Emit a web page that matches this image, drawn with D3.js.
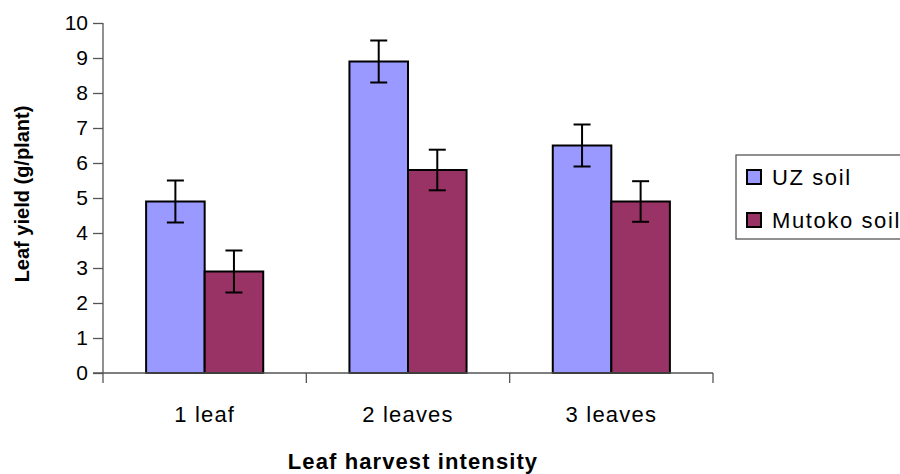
<!DOCTYPE html>
<html>
<head>
<meta charset="utf-8">
<script src="https://cdn.jsdelivr.net/npm/d3@7"></script>
<style>
  body { margin: 0; background: #fff; }
  svg { display: block; font-family: "Liberation Sans", Arial, sans-serif; }
</style>
</head>
<body>
<svg id="chart" width="900" height="474"></svg>
<script>
// data
const categories = ['1 leaf', '2 leaves', '3 leaves'];
const seriesNames = ['UZ soil', 'Mutoko soil'];
const uzValues = [4.9, 8.9, 6.5];
const mutokoValues = [2.9, 5.8, 4.9];
const uzErrors = [0.6, 0.6, 0.6];
const mutokoErrors = [0.6, 0.58, 0.58];
const yTicks = [0, 1, 2, 3, 4, 5, 6, 7, 8, 9, 10];
const colors = ['#9999ff', '#993366'];

const rows = categories.map((c, i) => ({
  category: c,
  bars: [
    { series: seriesNames[0], value: uzValues[i], err: uzErrors[i] },
    { series: seriesNames[1], value: mutokoValues[i], err: mutokoErrors[i] }
  ]
}));

const plot = { left: 103, right: 713, top: 23, bottom: 373 };

const svg = d3.select('#chart');

const x = d3.scaleBand()
  .domain(categories)
  .range([plot.left, plot.right]);

// bars take a bit over half of each category slot
const groupPad = x.bandwidth() * 0.212;
const x1 = d3.scaleBand()
  .domain(seriesNames)
  .range([groupPad, x.bandwidth() - groupPad]);

const y = d3.scaleLinear()
  .domain([0, 10])
  .range([plot.bottom, plot.top]);

const color = d3.scaleOrdinal().domain(seriesNames).range(colors);

// bars
const groups = svg.append('g')
  .selectAll('g')
  .data(rows)
  .join('g')
  .attr('transform', d => `translate(${x(d.category)},0)`);

groups.selectAll('rect')
  .data(d => d.bars)
  .join('rect')
  .attr('x', d => x1(d.series))
  .attr('y', d => y(d.value))
  .attr('width', x1.bandwidth())
  .attr('height', d => y(0) - y(d.value))
  .attr('fill', d => color(d.series))
  .attr('stroke', '#000')
  .attr('stroke-width', 2);

// error bars
const capHalf = 8.5;
const errs = groups.selectAll('g.err')
  .data(d => d.bars)
  .join('g')
  .attr('class', 'err')
  .attr('stroke', '#000')
  .attr('stroke-width', 2);

errs.append('line')
  .attr('x1', d => x1(d.series) + x1.bandwidth() / 2)
  .attr('x2', d => x1(d.series) + x1.bandwidth() / 2)
  .attr('y1', d => y(d.value + d.err))
  .attr('y2', d => y(d.value - d.err));

errs.selectAll('line.cap')
  .data(d => [d.value + d.err, d.value - d.err].map(v => ({ v, cx: x1(d.series) + x1.bandwidth() / 2 })))
  .join('line')
  .attr('class', 'cap')
  .attr('x1', d => d.cx - capHalf)
  .attr('x2', d => d.cx + capHalf)
  .attr('y1', d => y(d.v))
  .attr('y2', d => y(d.v));

// y axis
const yAxis = svg.append('g')
  .attr('transform', `translate(${plot.left},0)`)
  .call(d3.axisLeft(y).tickValues(yTicks).tickSize(10).tickSizeOuter(0).tickPadding(5));
yAxis.select('.domain')
  .attr('d', `M0,${plot.top}V${plot.bottom + 10}`);
yAxis.selectAll('line, path').attr('stroke', '#555').attr('stroke-width', 1.3);
yAxis.selectAll('text')
  .attr('font-size', 21)
  .attr('fill', '#000')
  .attr('font-family', '"Liberation Sans", Arial, sans-serif');

// x axis, ticks sit between categories
const xAxis = svg.append('g').attr('transform', `translate(0,${plot.bottom})`);
xAxis.append('path')
  .attr('d', `M${plot.left - 10},0H${plot.right}`)
  .attr('stroke', '#555')
  .attr('stroke-width', 1.3)
  .attr('fill', 'none');
const bounds = categories.map(c => x(c)).concat([x(categories[categories.length - 1]) + x.bandwidth()]);
xAxis.selectAll('line.sep')
  .data(bounds.slice(1))
  .join('line')
  .attr('class', 'sep')
  .attr('x1', d => d).attr('x2', d => d)
  .attr('y1', 0).attr('y2', 10)
  .attr('stroke', '#555')
  .attr('stroke-width', 1.3);
xAxis.selectAll('text')
  .data(categories)
  .join('text')
  .attr('x', d => x(d) + x.bandwidth() / 2)
  .attr('y', 49)
  .attr('text-anchor', 'middle')
  .attr('font-size', 22)
  .attr('letter-spacing', 1.2)
  .text(d => d);

// axis titles
svg.append('text')
  .attr('x', 413)
  .attr('y', 469)
  .attr('text-anchor', 'middle')
  .attr('font-size', 22)
  .attr('font-weight', 'bold')
  .attr('letter-spacing', 1.1)
  .text('Leaf harvest intensity');

svg.append('text')
  .attr('transform', 'translate(29,194) rotate(-90)')
  .attr('text-anchor', 'middle')
  .attr('font-size', 20)
  .attr('font-weight', 'bold')
  .text('Leaf yield (g/plant)');

// legend
const legend = svg.append('g').attr('transform', 'translate(736,155)');
legend.append('rect')
  .attr('width', 200)
  .attr('height', 84)
  .attr('fill', '#fff')
  .attr('stroke', '#555')
  .attr('stroke-width', 1.3);
const items = legend.selectAll('g.item')
  .data(seriesNames)
  .join('g')
  .attr('class', 'item')
  .attr('transform', (d, i) => `translate(11,${15 + i * 43})`);
items.append('rect')
  .attr('width', 14)
  .attr('height', 14)
  .attr('fill', d => color(d))
  .attr('stroke', '#000')
  .attr('stroke-width', 2);
items.append('text')
  .attr('x', 25)
  .attr('y', 15)
  .attr('font-size', 22)
  .attr('letter-spacing', 1.6)
  .text(d => d);
</script>
</body>
</html>
